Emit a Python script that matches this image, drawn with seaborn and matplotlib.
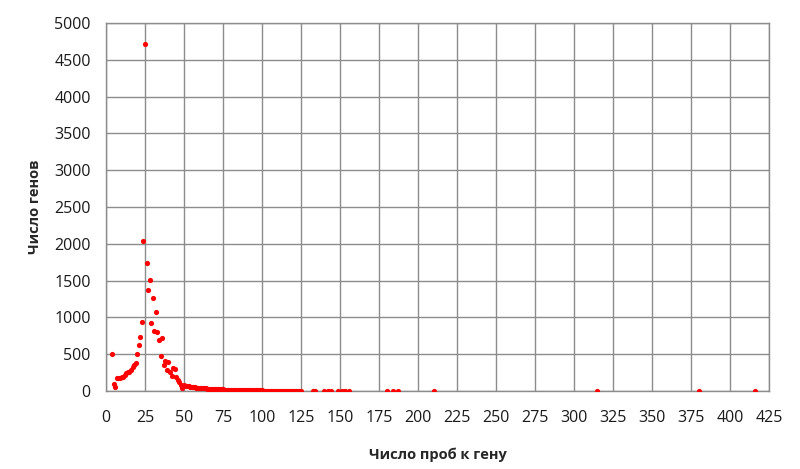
import pandas as pd
import seaborn as sns
import matplotlib.pyplot as plt

# probes per gene (x) and number of genes (y)
head_probes = list(range(4, 50))
head_genes = [500, 90, 60, 170, 175, 180, 190, 195, 215, 240,
              265, 260, 280, 330, 350, 375, 500, 625, 740, 940,
              2040, 4710, 1740, 1370, 1510, 930, 1270, 810, 1070, 795,
              695, 480, 725, 355, 410, 285, 400, 265, 205, 310,
              295, 185, 150, 127, 82, 45]

tail_probes = list(range(50, 126))
tail_genes = [80, 72, 66, 62, 58, 55, 52, 50, 47, 45,
              43, 41, 39, 37, 35, 34, 32, 30, 29, 28,
              27, 25, 24, 23, 22, 21, 20, 19, 18, 18,
              17, 16, 15, 15, 14, 13, 13, 12, 12, 11,
              11, 10, 10, 9, 9, 8, 8, 8, 7, 7,
              7, 6, 6, 6, 5, 5, 5, 5, 4, 4,
              4, 4, 4, 3, 3, 3, 3, 3, 3, 2,
              2, 2, 2, 2, 2, 2]

rare_probes = [133, 134, 140, 142, 144, 149, 151, 153, 156, 180, 184, 187, 210, 315, 380, 416]
rare_genes = [3, 2, 2, 1, 2, 1, 2, 1, 1, 1, 1, 1, 1, 1, 1, 1]

df = pd.DataFrame({
    'probes': head_probes + tail_probes + rare_probes,
    'genes': head_genes + tail_genes + rare_genes,
})

sns.set_style('white')
plt.rcParams['font.family'] = ['Open Sans', 'DejaVu Sans']

fig = plt.figure(figsize=(8, 4.69), dpi=100)
ax = fig.add_axes([0.1325, 0.1663, 0.8287, 0.7847])

sns.scatterplot(data=df, x='probes', y='genes', color='red', s=14,
                linewidth=0, ax=ax, zorder=3)

ax.set_xlim(0, 425)
ax.set_ylim(0, 5000)
ax.set_xticks(range(0, 426, 25))
ax.set_yticks(range(0, 5001, 500))
ax.grid(True, color='#8c8c8c', linewidth=1)
for side in ax.spines.values():
    side.set_color('#8c8c8c')
    side.set_linewidth(1)
ax.tick_params(length=0, labelsize=11.5, colors='#1a1a1a')
ax.tick_params(axis='x', pad=14)
ax.tick_params(axis='y', pad=11)

ax.set_xlabel('Число проб к гену', fontsize=10.5, fontweight='bold', labelpad=15)
ax.set_ylabel('Число генов', fontsize=10.5, fontweight='bold', labelpad=8.5)

fig.savefig('out.png', dpi=100)
